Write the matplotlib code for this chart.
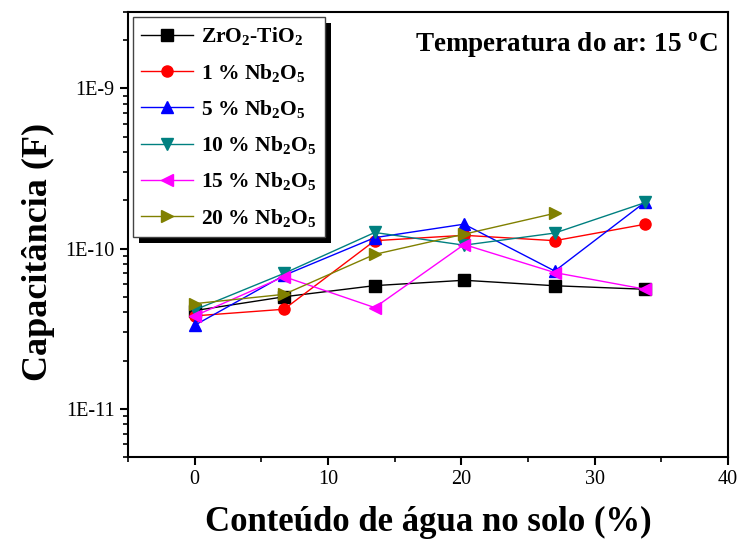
import matplotlib
matplotlib.use("Agg")
import matplotlib.pyplot as plt
from matplotlib.patches import Rectangle
from matplotlib.ticker import LogLocator, FixedLocator, NullFormatter, FuncFormatter
import math

plt.rcParams['font.family'] = ['Liberation Serif', 'DejaVu Serif']
plt.rcParams['mathtext.fontset'] = 'custom'
plt.rcParams['mathtext.rm'] = 'Liberation Serif'
plt.rcParams['mathtext.bf'] = 'Liberation Serif:bold'

x = [0, 6.7, 13.5, 20.2, 27.0, 33.8]
x20 = x[:5]

zrti = [4.1e-11, 5.0e-11, 5.87e-11, 6.34e-11, 5.86e-11, 5.57e-11]
nb1 = [3.8e-11, 4.18e-11, 1.12e-10, 1.21e-10, 1.12e-10, 1.42e-10]
nb5 = [3.32e-11, 6.8e-11, 1.17e-10, 1.42e-10, 7.24e-11, 1.96e-10]
nb10 = [4.14e-11, 7.0e-11, 1.26e-10, 1.05e-10, 1.25e-10, 1.94e-10]
nb15 = [3.8e-11, 6.68e-11, 4.28e-11, 1.06e-10, 7.08e-11, 5.57e-11]
nb20 = [4.53e-11, 5.18e-11, 9.2e-11, 1.23e-10, 1.66e-10]

labels = [r"$\mathbf{ZrO_2}$-$\mathbf{TiO_2}$",
          r"1 % $\mathbf{Nb_2O_5}$",
          r"5 % $\mathbf{Nb_2O_5}$",
          r"10 % $\mathbf{Nb_2O_5}$",
          r"15 % $\mathbf{Nb_2O_5}$",
          r"20 % $\mathbf{Nb_2O_5}$"]

fig = plt.figure(figsize=(7.4, 5.44), dpi=100)
ax = fig.add_axes([0.173, 0.160, 0.811, 0.818])

series = [
    (x, zrti, 'black', 's'),
    (x, nb1, 'red', 'o'),
    (x, nb5, 'blue', '^'),
    (x, nb10, '#008080', 'v'),
    (x, nb15, 'magenta', '<'),
    (x20, nb20, '#808000', '>'),
]
for (xs, ys, c, m), lab in zip(series, labels):
    ax.plot(xs, ys, color=c, marker=m, markersize=8, linewidth=1, label=lab)

ax.set_yscale('log')
ax.set_xlim(-5, 40)
ax.set_ylim(5e-12, 3e-9)

ax.xaxis.set_major_locator(FixedLocator([0, 10, 20, 30, 40]))
ax.xaxis.set_minor_locator(FixedLocator([-5, 5, 15, 25, 35]))
ax.yaxis.set_major_locator(FixedLocator([1e-11, 1e-10, 1e-9]))
ax.yaxis.set_minor_locator(LogLocator(base=10, subs=range(2, 10)))
ax.yaxis.set_minor_formatter(NullFormatter())

def efmt(v, pos):
    e = int(round(math.log10(v)))
    return f"1E{e}"
ax.yaxis.set_major_formatter(FuncFormatter(efmt))

ax.tick_params(axis='both', which='major', direction='out', length=6, width=1.5, labelsize=14.5)
ax.tick_params(axis='both', which='minor', direction='out', length=3.5, width=1.2)
for s in ax.spines.values():
    s.set_linewidth(1.5)

ax.set_xlabel("Conteúdo de água no solo (%)", fontsize=25, fontweight='bold', labelpad=12)
ax.set_ylabel("Capacitância (F)", fontsize=26, fontweight='bold')
ax.yaxis.set_label_coords(-0.122, 0.46)

ax.text(0.982, 0.96, r"Temperatura do ar: 15 $\mathbf{^o}$C", transform=ax.transAxes,
        ha='right', va='top', fontsize=19.5, fontweight='bold')

leg = ax.legend(loc='upper left', bbox_to_anchor=(0.008, 0.989), borderaxespad=0,
                prop={'weight': 'bold', 'size': 15.5}, frameon=True, fancybox=False,
                framealpha=1, facecolor='white',
                handlelength=2.4, labelspacing=0.66, borderpad=0.4, handletextpad=0.35)
leg.get_frame().set_edgecolor('#444444')
leg.get_frame().set_linewidth(1.0)
leg.set_zorder(10)

fig.canvas.draw()
bb = leg.get_window_extent().transformed(fig.transFigure.inverted())
dx = 6 / 740
dy = 6 / 544
shadow = Rectangle((bb.x0 + dx, bb.y0 - dy), bb.width, bb.height, transform=fig.transFigure,
                   facecolor='black', edgecolor='none', zorder=9)
ax.add_artist(shadow)
shadow.set_clip_on(False)

fig.savefig("out.png", dpi=100)
